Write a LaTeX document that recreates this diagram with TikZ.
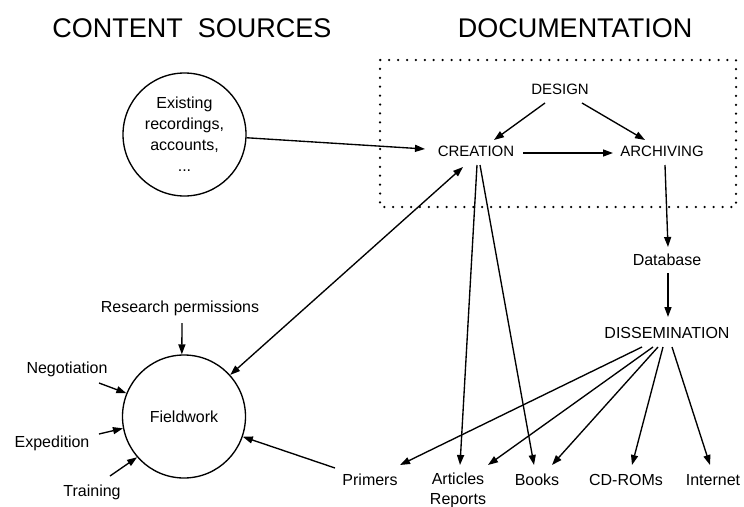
\documentclass[tikz,border=0pt]{standalone}
\usepackage{fontspec}
\setmainfont{Liberation Sans}
\usetikzlibrary{arrows.meta,calc}
\begin{document}
\begin{tikzpicture}[x=1pt,y=-1pt,
  conn/.style={line width=1.35pt,-{Triangle[length=10pt,width=7pt]}},
  biconn/.style={line width=1.35pt,{Triangle[length=10pt,width=7pt]}-{Triangle[length=10pt,width=7pt]}},
  lbl/.style={inner sep=0pt,font=\fontsize{16}{20}\selectfont},
  boxlbl/.style={inner sep=0pt,font=\fontsize{15}{18}\selectfont},
  ttl/.style={inner sep=0pt,font=\fontsize{27}{30}\selectfont},
  bubble/.style={circle,draw,line width=1.35pt,minimum size=123pt,inner sep=0pt,align=center,font=\fontsize{16}{21}\selectfont},
  dotbox/.style={line width=2.5pt,dash pattern=on 0pt off 8.9pt,line cap=round}
]
\useasboundingbox (0,0) rectangle (744,506);
% titles
\node[ttl] (tl) at (192,28) {CONTENT\ \ SOURCES};
\node[ttl] (tr) at (575,28) {DOCUMENTATION};
% dotted documentation box
\draw[dotbox] (380,60) rectangle (736,207);
% nodes
\node[boxlbl] (design) at (560,89) {DESIGN};
\node[boxlbl] (creation) at (476,151) {CREATION};
\node[boxlbl] (archiving) at (662,151) {ARCHIVING};
\node[lbl] (database) at (667,260) {Database};
\node[lbl] (diss) at (667,333) {DISSEMINATION};
\node[bubble] (existing) at (184.5,134.5) {Existing\\recordings,\\accounts,\\...};
\node[bubble] (fieldwork) at (184,416.5) {Fieldwork};
\node[lbl] (research) at (180,308) {Research permissions};
\node[lbl] (neg) at (67,369) {Negotiation};
\node[lbl] (exped) at (52,443) {Expedition};
\node[lbl] (training) at (92,492) {Training};
\node[lbl] (primers) at (370,480) {Primers};
\node[lbl,align=center] (articles) at (458,490) {Articles\\Reports};
\node[lbl] (books) at (537,480) {Books};
\node[lbl] (cdroms) at (626,480) {CD-ROMs};
\node[lbl] (internet) at (713,480) {Internet};
% connectors inside the box
\draw[conn] ($(design)+(-15,14)$) -- ($(creation)+(18,-11)$);
\draw[conn] ($(design)+(22,14)$) -- ($(archiving)+(-17,-11)$);
\draw[conn] ($(creation)+(47,2)$) -- ($(archiving)+(-49,2)$);
\draw[conn] (existing.357) -- ($(creation)+(-51,-2)$);
% archiving chain
\draw[conn] ($(archiving)+(3,14)$) -- ($(database)+(1,-13)$);
\draw[conn] ($(database)+(1,13)$) -- ($(diss)+(1,-16)$);
% creation outputs
\draw[conn] ($(creation)+(1,14)$) -- ($(articles)+(2,-25)$);
\draw[conn] ($(creation)+(4,14)$) -- ($(books)+(-3,-15)$);
\draw[biconn] (fieldwork.42) -- ($(creation)+(-13,16)$);
% dissemination outputs
\draw[conn] ($(diss)+(-25,14)$) -- ($(primers)+(30,-15)$);
\draw[conn] ($(diss)+(-14,14)$) -- ($(articles)+(30,-25)$);
\draw[conn] ($(diss)+(-9,14)$) -- ($(books)+(15,-15)$);
\draw[conn] ($(diss)+(-4,14)$) -- ($(cdroms)+(6,-15)$);
\draw[conn] ($(diss)+(5,14)$) -- ($(internet)+(-3,-15)$);
% fieldwork inputs
\draw[conn] ($(research)+(2,15)$) -- (fieldwork.92);
\draw[conn] ($(neg)+(32,14)$) -- (fieldwork.158);
\draw[conn] ($(exped)+(47,-9)$) -- (fieldwork.191.6);
\draw[conn] ($(training)+(18,-16)$) -- (fieldwork.221);
\draw[conn] ($(primers)+(-35,-12)$) -- (fieldwork.341);
\end{tikzpicture}
\end{document}
